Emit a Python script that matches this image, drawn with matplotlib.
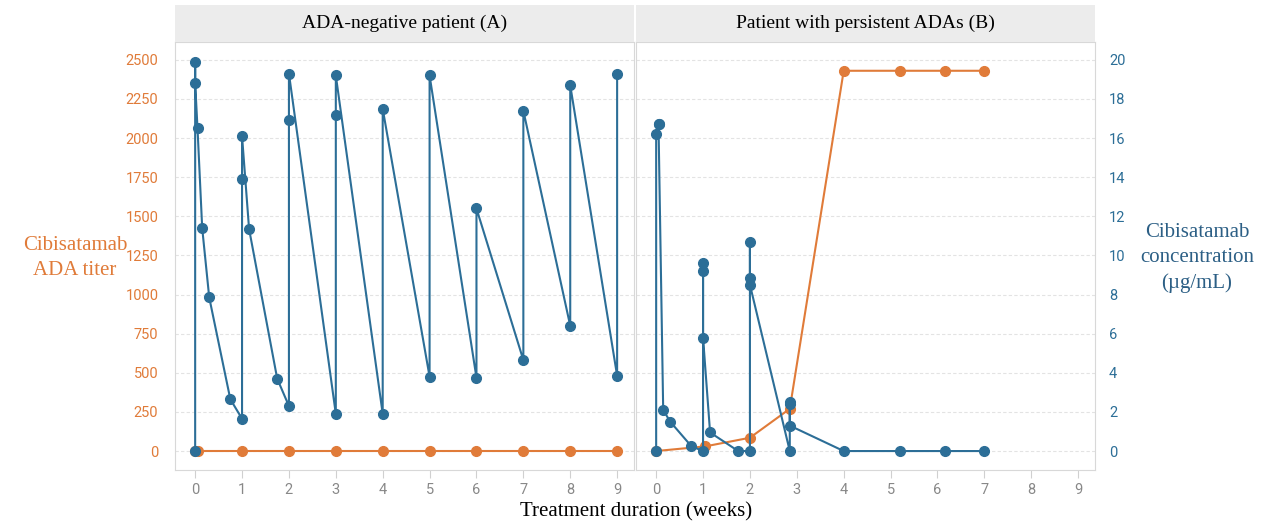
import matplotlib.pyplot as plt

ORANGE = "#E07B39"
BLUE = "#2C6E97"
GRID = "#e3e3e3"

# ADA-negative patient (A): concentration (ug/mL) vs week
a_conc_x = [0, 0, 0, 0.05, 0.15, 0.3, 0.75, 1, 1, 1, 1.15, 1.75, 2, 2, 2,
            3, 3, 3, 4, 4, 5, 5, 6, 6, 7, 7, 8, 8, 9, 9]
a_conc_y = [0, 19.9, 18.8, 16.5, 11.4, 7.85, 2.65, 1.65, 13.9, 16.1, 11.35, 3.7, 2.3, 16.9, 19.3,
            1.9, 17.2, 19.2, 1.9, 17.5, 3.8, 19.2, 3.75, 12.4, 4.65, 17.4, 6.4, 18.7, 3.85, 19.3]
a_ada_x = [0, 0.05, 1, 2, 3, 4, 5, 6, 7, 8, 9]
a_ada_y = [0, 0, 0, 0, 0, 0, 0, 0, 0, 0, 0]

# Patient with persistent ADAs (B)
b_conc_x = [0, 0, 0.05, 0.05, 0.15, 0.3, 0.75, 1, 1, 1, 1, 1.15, 1.75, 2, 2, 2, 2,
            2.85, 2.85, 2.85, 2.85, 4, 5.2, 6.15, 7]
b_conc_y = [0, 16.2, 16.7, 16.7, 2.1, 1.5, 0.25, 0, 9.6, 9.2, 5.8, 0.95, 0, 0, 10.7, 8.85, 8.5,
            0, 2.5, 2.4, 1.3, 0, 0, 0, 0]
b_ada_x = [0, 1.05, 2, 2.85, 4, 5.2, 6.15, 7]
b_ada_y = [0, 30, 85, 270, 2430, 2430, 2430, 2430]

titles = ["ADA-negative patient (A)", "Patient with persistent ADAs (B)"]
ada_ticks = [0, 250, 500, 750, 1000, 1250, 1500, 1750, 2000, 2250, 2500]
conc_ticks = [0, 2, 4, 6, 8, 10, 12, 14, 16, 18, 20]

plt.rcParams["font.family"] = "Roboto"
fig = plt.figure(figsize=(12.67, 5.26), dpi=100)

ada_lim = (-121, 2615)
conc_lim = (ada_lim[0] / 125, ada_lim[1] / 125)
lefts = [175 / 1267, 636 / 1267]
w = 459 / 1267
data = [(a_conc_x, a_conc_y, a_ada_x, a_ada_y), (b_conc_x, b_conc_y, b_ada_x, b_ada_y)]

for i, (cx, cy, ox, oy) in enumerate(data):
    ax = fig.add_axes([lefts[i], 0.1065, w, 0.814])
    ax.set_xlim(-0.43, 9.36)
    ax.set_ylim(*ada_lim)
    ax.set_yticks(ada_ticks)
    ax.set_xticks(range(10))
    ax.grid(axis="y", color=GRID, lw=0.8, ls=(0, (3, 2)))
    ax.set_axisbelow(True)
    for s in ax.spines.values():
        s.set_color("#d8d8d8")
    ax.tick_params(axis="x", colors="#d0d0d0", labelcolor="#888888", labelsize=10.5, length=6)
    ax.plot(ox, oy, color=ORANGE, lw=1.5, marker="o", ms=7, zorder=3)
    ax2 = ax.twinx()
    ax2.set_ylim(*conc_lim)
    ax2.set_yticks(conc_ticks)
    ax2.plot(cx, cy, color=BLUE, lw=1.5, marker="o", ms=7, zorder=4)
    for s in ax2.spines.values():
        s.set_visible(False)
    if i == 0:
        ax.tick_params(axis="y", length=0, labelcolor=ORANGE, labelsize=10.5, pad=12)
        ax2.tick_params(axis="y", right=False, labelright=False)
    else:
        ax.tick_params(axis="y", left=False, labelleft=False)
        ax2.tick_params(axis="y", length=0, labelcolor=BLUE, labelsize=10.5, pad=10)
    hd = fig.add_axes([lefts[i], 0.92, w, 0.07])
    hd.set_facecolor("#ececec")
    hd.set_xticks([])
    hd.set_yticks([])
    for s in hd.spines.values():
        s.set_visible(False)
    hd.text(0.5, 0.5, titles[i], ha="center", va="center", fontsize=14,
            family="Liberation Serif", transform=hd.transAxes)

fig.text(75 / 1267, 1 - 258 / 526, "Cibisatamab\nADA titer", color=ORANGE, fontsize=15,
         family="Liberation Serif", ha="center", va="center", linespacing=1.4)
fig.text(1197 / 1267, 1 - 258 / 526, "Cibisatamab\nconcentration\n(µg/mL)", color="#2C5F85",
         fontsize=15, family="Liberation Serif", ha="center", va="center", linespacing=1.4)
fig.text(636 / 1267, 1 - 512 / 526, "Treatment duration (weeks)", fontsize=15,
         family="Liberation Serif", ha="center", va="center")

fig.savefig("out.png", dpi=100, facecolor="white")
